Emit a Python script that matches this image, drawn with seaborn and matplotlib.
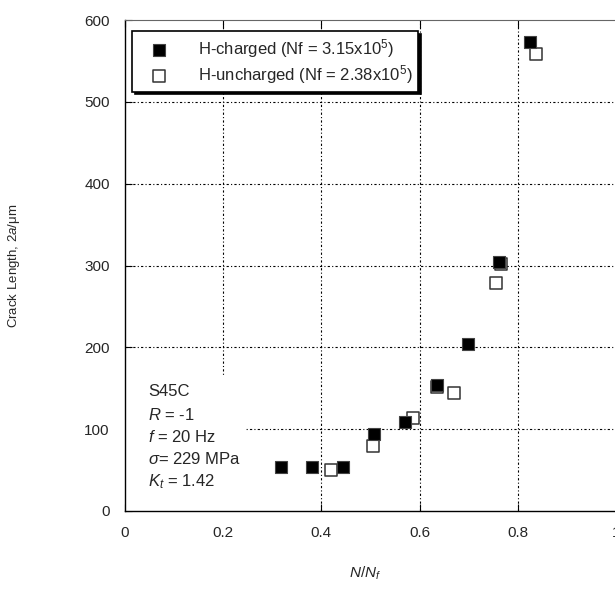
import numpy as np
import pandas as pd
import seaborn as sns
import matplotlib.pyplot as plt
from matplotlib.patches import Rectangle

# data
n_charged = [0.318, 0.381, 0.444, 0.508, 0.570, 0.635, 0.698, 0.762, 0.824]
len_charged = [54, 54, 54, 94, 109, 154, 204, 304, 573]

n_uncharged = [0.420, 0.505, 0.587, 0.635, 0.671, 0.756, 0.765, 0.838]
len_uncharged = [50, 80, 114, 152, 144, 279, 302, 558]

label_charged = 'H-charged (Nf = 3.15x10$^5$)'
label_uncharged = 'H-uncharged (Nf = 2.38x10$^5$)'

x_ticks = [0, 0.2, 0.4, 0.6, 0.8, 1.0]
x_ticklabels = ['0', '0.2', '0.4', '0.6', '0.8', '1']
y_ticks = [0, 100, 200, 300, 400, 500, 600]

df_c = pd.DataFrame({'N': n_charged, 'len': len_charged})
df_u = pd.DataFrame({'N': n_uncharged, 'len': len_uncharged})

sns.set_style('white')
plt.rcParams['font.family'] = ['Liberation Sans', 'DejaVu Sans']
plt.rcParams['mathtext.fontset'] = 'custom'
plt.rcParams['mathtext.rm'] = 'Liberation Sans'
plt.rcParams['mathtext.it'] = 'Liberation Sans:italic'

fig = plt.figure(figsize=(6.15, 5.97), dpi=100)
ax = fig.add_axes([125 / 615, (597 - 511) / 597, (616 - 125) / 615, (511 - 20) / 597])

# grid, dash-dot dotted
for xv in x_ticks[1:-1]:
    ax.axvline(xv, color='black', lw=0.8, ls=(0, (2, 2, 1, 2)), zorder=0.5)
for yv in y_ticks[1:-1]:
    ax.axhline(yv, color='black', lw=0.8, ls=(0, (2, 2, 1, 2)), zorder=0.5)

# white area behind the condition text
ax.add_patch(Rectangle((0, 0), 0.246, 0.275, transform=ax.transAxes,
                       facecolor='white', edgecolor='none', zorder=1))

sns.scatterplot(data=df_u, x='N', y='len', ax=ax, marker='s', s=72,
                color='white', edgecolor='#333333', linewidth=1.1,
                label=label_uncharged, zorder=3)
sns.scatterplot(data=df_c, x='N', y='len', ax=ax, marker='s', s=80,
                color='black', edgecolor='#444444', linewidth=0.8,
                label=label_charged, zorder=4)

ax.set_xlim(0, 1)
ax.set_ylim(0, 600)
ax.set_xticks(x_ticks)
ax.set_xticklabels(x_ticklabels)
ax.set_yticks(y_ticks)
ax.tick_params(direction='in', length=5, width=0.8, labelsize=11,
               top=True, left=True, bottom=True, color='black')
ax.tick_params(axis='x', pad=11)
ax.tick_params(axis='y', pad=11)

ax.spines['right'].set_visible(False)
ax.spines['top'].set_color('#666666')
for s in ['left', 'bottom']:
    ax.spines[s].set_color('black')
    ax.spines[s].set_linewidth(1.0)

ax.set_xlabel('$N/N_f$', fontsize=11)
ax.xaxis.set_label_coords((365 - 125) / 491, -(565 - 511) / 491)
ax.set_ylabel('Crack Length, 2$a$/μm', fontsize=9.5)
ax.yaxis.set_label_coords(-(125 - 22) / 491, 0.5)

h, l = ax.get_legend_handles_labels()
leg = ax.legend(h[::-1], l[::-1], loc='upper left',
                bbox_to_anchor=(0.014, 0.978), fontsize=12,
                frameon=True, fancybox=False, shadow={'color': 'black', 'alpha': 1},
                edgecolor='black', handletextpad=1.0, borderpad=0.35,
                labelspacing=0.2, handlelength=2.6, borderaxespad=0)
leg.get_frame().set_linewidth(1.2)
leg.set_zorder(6)

cond = ['S45C', '$R$ = -1', '$f$ = 20 Hz', '$\\sigma$= 229 MPa', '$K_t$ = 1.42']
for i, t in enumerate(cond):
    ax.text(0.047, (511 - 392) / 491 - i * 22.5 / 491, t, transform=ax.transAxes,
            fontsize=12, va='center', ha='left', zorder=5)

fig.savefig('out.png', dpi=100)
